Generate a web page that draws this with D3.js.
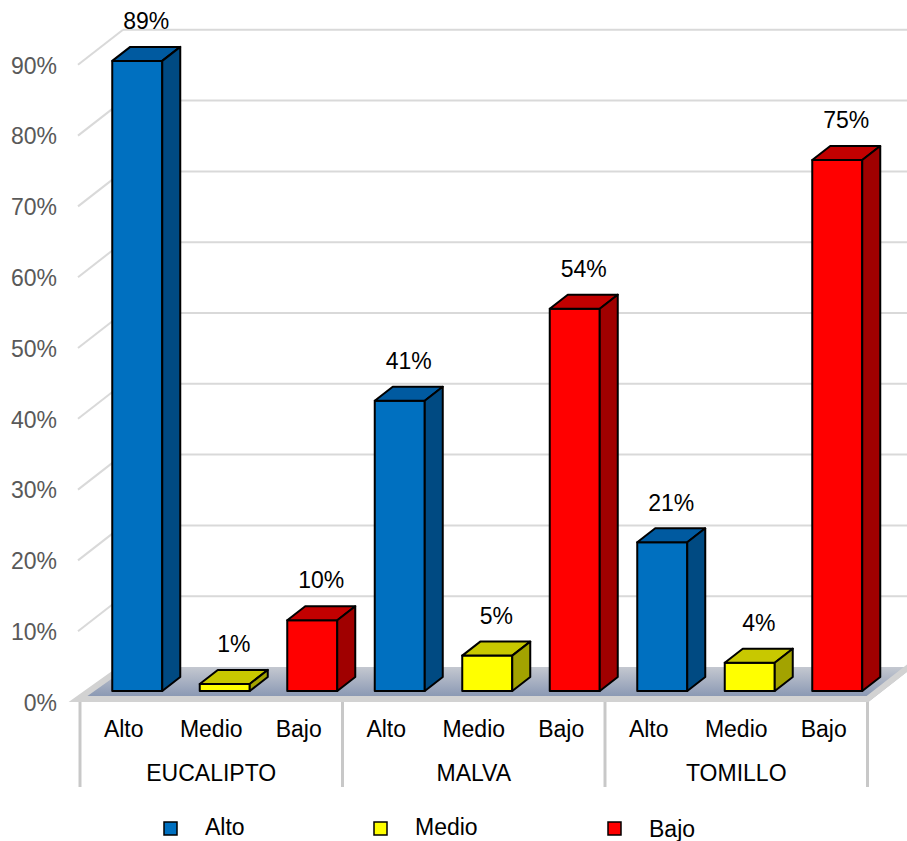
<!DOCTYPE html>
<html>
<head>
<meta charset="utf-8">
<script src="https://cdn.jsdelivr.net/npm/d3@7"></script>
<style>
  html, body { margin: 0; padding: 0; background: #ffffff; }
  svg { display: block; }
  text { font-family: Arial, "Liberation Sans", sans-serif; }
</style>
</head>
<body>
<svg id="chart" width="907" height="841"></svg>
<script>
// ---- Data ----
const categories = ["EUCALIPTO", "MALVA", "TOMILLO"];
const levels = ["Alto", "Medio", "Bajo"];
const alto  = [0.89, 0.41, 0.21];
const medio = [0.01, 0.05, 0.04];
const bajo  = [0.10, 0.54, 0.75];
const yTicks = [0, 0.1, 0.2, 0.3, 0.4, 0.5, 0.6, 0.7, 0.8, 0.9];

const seriesValues = { Alto: alto, Medio: medio, Bajo: bajo };
const colors = {
  Alto:  { front: "#0070c0", top: "#005aa0", side: "#004a82" },
  Medio: { front: "#ffff00", top: "#c8c800", side: "#a3a300" },
  Bajo:  { front: "#ff0000", top: "#c20000", side: "#a00000" }
};

// ---- Geometry ----
const svg = d3.select("#chart");
const W = 907, H = 841;
const frontLeft = 80, frontRight = 867.5;
const depth = { dx: 45, dy: -35 };      // full floor depth
const barOff = { dx: 13.5, dy: -11 };   // bar front face offset from front plane
const barDepth = { dx: 18, dy: -14 };   // bar depth

const y = d3.scaleLinear().domain([0, 0.9]).range([702, 64.8]);
const x0 = d3.scaleBand().domain(categories).range([frontLeft, frontRight]).padding(0);
const x1 = d3.scaleBand().domain(levels).range([0, x0.bandwidth()]).padding(0);
const barW = 50;

const font = 'Arial, "Liberation Sans", sans-serif';

// ---- Floor ----
const defs = svg.append("defs");
const grad = defs.append("linearGradient").attr("id", "floorGrad")
  .attr("x1", 0).attr("y1", 0).attr("x2", 0).attr("y2", 1);
grad.append("stop").attr("offset", "0%").attr("stop-color", "#c4c8d0");
grad.append("stop").attr("offset", "100%").attr("stop-color", "#7f8fae");

const y0 = y(0);
const floorPts = [
  [78, y0], [frontRight + 0.5, y0],
  [frontRight + 0.5 + depth.dx, y0 + depth.dy], [78 + depth.dx, y0 + depth.dy]
];
svg.append("polygon")
  .attr("points", floorPts.map(p => p.join(",")).join(" "))
  .attr("fill", "url(#floorGrad)");
// light floor edges (front, right side, left side)
svg.append("path")
  .attr("d", d3.line()([[78 + depth.dx, y0 + depth.dy], [78, y0 - 3], [frontRight, y0 - 3], [frontRight + depth.dx, y0 - 3 + depth.dy]]))
  .attr("fill", "none").attr("stroke", "#d2d2d2").attr("stroke-width", 6)
  .attr("stroke-linejoin", "miter");

// ---- Back wall gridlines & left diagonals ----
const grid = svg.append("g");
yTicks.filter(t => t > 0).forEach(t => {
  const yy = y(t);
  grid.append("line")
    .attr("x1", 78 + depth.dx).attr("x2", W + 10)
    .attr("y1", yy + depth.dy).attr("y2", yy + depth.dy)
    .attr("stroke", "#d9d9d9").attr("stroke-width", 2);
  grid.append("line")
    .attr("x1", 78).attr("x2", 78 + depth.dx)
    .attr("y1", yy).attr("y2", yy + depth.dy)
    .attr("stroke", "#d9d9d9").attr("stroke-width", 2);
});

// ---- Y axis labels ----
const yAxis = d3.axisLeft(y).tickValues(yTicks).tickFormat(d3.format(".0%")).tickSize(0).tickPadding(0);
const yg = svg.append("g").attr("transform", "translate(57,0)").call(yAxis);
yg.select(".domain").remove();
yg.selectAll("text")
  .attr("font-family", font).attr("font-size", 23).attr("fill", "#595959")
  .attr("dy", "0.36em");

// ---- Bars ----
const barsG = svg.append("g");
const labelsG = svg.append("g");
categories.forEach((cat, ci) => {
  levels.forEach(lv => {
    const v = seriesValues[lv][ci];
    const cx = x0(cat) + x1(lv) + x1.bandwidth() / 2 + barOff.dx;
    const xl = cx - barW / 2, xr = cx + barW / 2;
    const yb = y(0) + barOff.dy;
    const yt = y(v) + barOff.dy;
    const c = colors[lv];
    const g = barsG.append("g")
      .attr("stroke", "#000").attr("stroke-width", 2).attr("stroke-linejoin", "round");
    // front
    g.append("polygon")
      .attr("points", [[xl, yt], [xr, yt], [xr, yb], [xl, yb]].map(p => p.join(",")).join(" "))
      .attr("fill", c.front);
    // top
    g.append("polygon")
      .attr("points", [[xl, yt], [xr, yt], [xr + barDepth.dx, yt + barDepth.dy], [xl + barDepth.dx, yt + barDepth.dy]].map(p => p.join(",")).join(" "))
      .attr("fill", c.top);
    // side
    g.append("polygon")
      .attr("points", [[xr, yt], [xr + barDepth.dx, yt + barDepth.dy], [xr + barDepth.dx, yb + barDepth.dy], [xr, yb]].map(p => p.join(",")).join(" "))
      .attr("fill", c.side);
    // label
    labelsG.append("text")
      .attr("x", cx + barDepth.dx / 2)
      .attr("y", yt + barDepth.dy - 26)
      .attr("dy", "0.36em")
      .attr("text-anchor", "middle")
      .attr("font-family", font).attr("font-size", 23).attr("fill", "#000")
      .text(d3.format(".0%")(v));
  });
});

// ---- Category axis (two-level) ----
const catG = svg.append("g");
const seps = categories.map(c => x0(c)).concat([frontRight]);
seps.forEach(sx => {
  catG.append("line")
    .attr("x1", sx).attr("x2", sx).attr("y1", y0).attr("y2", 787)
    .attr("stroke", "#c8c8c8").attr("stroke-width", 3);
});
categories.forEach(cat => {
  levels.forEach(lv => {
    catG.append("text")
      .attr("x", x0(cat) + x1(lv) + x1.bandwidth() / 2)
      .attr("y", 737)
      .attr("text-anchor", "middle")
      .attr("font-family", font).attr("font-size", 23).attr("fill", "#000")
      .text(lv);
  });
  catG.append("text")
    .attr("x", x0(cat) + x0.bandwidth() / 2)
    .attr("y", 781)
    .attr("text-anchor", "middle")
    .attr("font-family", font).attr("font-size", 23).attr("fill", "#000")
    .text(cat);
});

// ---- Legend ----
const legendX = { Alto: 164, Medio: 374, Bajo: 608 };
const legG = svg.append("g");
levels.forEach(lv => {
  const lx = legendX[lv];
  legG.append("rect")
    .attr("x", lx).attr("y", 822).attr("width", 13).attr("height", 13)
    .attr("fill", colors[lv].front).attr("stroke", "#000").attr("stroke-width", 1.5);
  legG.append("text")
    .attr("x", lx + 41).attr("y", lv === "Bajo" ? 837 : 835)
    .attr("font-family", font).attr("font-size", 23).attr("fill", "#000")
    .text(lv);
});
</script>
</body>
</html>
